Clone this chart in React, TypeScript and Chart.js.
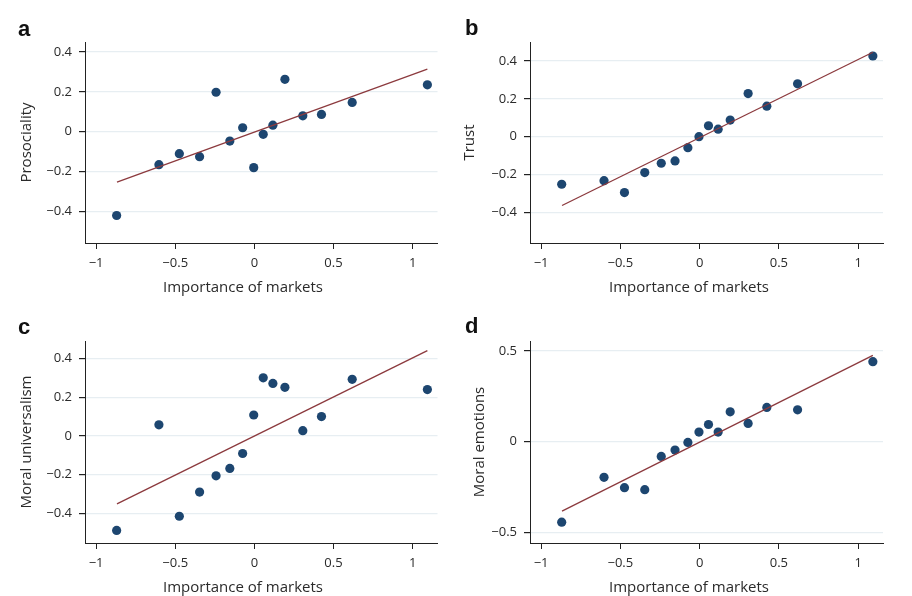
import React, { useEffect, useRef } from 'react';
import { Chart, registerables } from 'chart.js';

Chart.register(...registerables);

// importance of markets (shared x for all four panels)
const marketImportance = [-0.87, -0.603, -0.474, -0.346, -0.242, -0.155, -0.074, -0.004, 0.056, 0.117, 0.193, 0.306, 0.424, 0.618, 1.093];

const prosociality = [-0.42, -0.165, -0.11, -0.125, 0.198, -0.047, 0.02, -0.18, -0.013, 0.033, 0.263, 0.08, 0.087, 0.147, 0.235];
const trust = [-0.251, -0.232, -0.295, -0.189, -0.14, -0.128, -0.058, 0, 0.058, 0.04, 0.088, 0.228, 0.161, 0.279, 0.426];
const moralUniversalism = [-0.488, 0.057, -0.415, -0.29, -0.206, -0.168, -0.091, 0.108, 0.3, 0.271, 0.251, 0.027, 0.1, 0.292, 0.239];
const moralEmotions = [-0.443, -0.196, -0.253, -0.264, -0.081, -0.046, -0.004, 0.053, 0.095, 0.053, 0.165, 0.101, 0.189, 0.176, 0.441];

// fitted line: y at the first and last x
const fitX = [-0.868, 1.093];
const fitProsociality = [-0.253, 0.314];
const fitTrust = [-0.363, 0.446];
const fitUniversalism = [-0.351, 0.44];
const fitEmotions = [-0.382, 0.476];

const xTicks = [-1, -0.5, 0, 0.5, 1];
const yTicksFine = [-0.4, -0.2, 0, 0.2, 0.4];
const yTicksHalf = [-0.5, 0, 0.5];

const W = 456;
const H = 298;
const FONT = '"Open Sans", Lato, sans-serif';
const DOT = '#1d4670';
const FIT = '#8c3a3e';
const GRID = '#e7eef2';
const AXIS = '#222222';
const TEXT = '#2a2a2a';

const fmt = (v: number) => (v < 0 ? '\u2212' : '') + String(Math.abs(v));

interface PanelProps {
  letter: string;
  yTitle: string;
  ys: number[];
  fit: number[];
  yTicks: number[];
  yMin: number;
  yMax: number;
  x: number;
  y: number;
  plotLeft: number;
  plotTop: number;
  plotRight: number;
  plotBottom: number;
  titleX: number;
  xTitleX: number;
  xTitleY: number;
  letterX: number;
  letterY: number;
}

const Panel: React.FC<PanelProps> = (p) => {
  const canvasRef = useRef<HTMLCanvasElement>(null);
  const chartRef = useRef<Chart | null>(null);

  useEffect(() => {
    if (!canvasRef.current) return;
    if (chartRef.current) chartRef.current.destroy();
    const ctx = canvasRef.current.getContext('2d');
    if (!ctx) return;

    const titleLh = 18;

    chartRef.current = new Chart(ctx, {
      type: 'scatter',
      data: {
        datasets: [
          {
            type: 'line',
            data: fitX.map((x, i) => ({ x, y: p.fit[i] })),
            borderColor: FIT,
            borderWidth: 1.3,
            pointRadius: 0,
            fill: false,
            order: 0,
          },
          {
            data: marketImportance.map((x, i) => ({ x, y: p.ys[i] })),
            backgroundColor: DOT,
            borderWidth: 0,
            pointRadius: 4.6,
            order: 1,
          },
        ],
      },
      options: {
        animation: false,
        responsive: true,
        maintainAspectRatio: false,
        layout: { padding: { left: 0, top: p.plotTop, right: W - p.plotRight, bottom: 0 } },
        plugins: { legend: { display: false }, tooltip: { enabled: false } },
        scales: {
          x: {
            type: 'linear',
            min: -1.07,
            max: 1.157,
            afterBuildTicks: (s: any) => { s.ticks = xTicks.map((value) => ({ value })); },
            afterFit: (s: any) => { s.height = H - p.plotBottom; },
            border: { color: AXIS, width: 1 },
            grid: { drawOnChartArea: false, drawTicks: true, tickLength: 6, tickColor: AXIS },
            ticks: { color: TEXT, padding: 6, font: { family: FONT, size: 13 }, callback: (v: any) => fmt(Number(v)) },
          },
          y: {
            type: 'linear',
            min: p.yMin,
            max: p.yMax,
            afterBuildTicks: (s: any) => { s.ticks = p.yTicks.map((value) => ({ value })); },
            afterFit: (s: any) => { s.width = p.plotLeft; },
            border: { color: AXIS, width: 1 },
            grid: { color: GRID, lineWidth: 1.2, drawTicks: true, tickLength: 6, tickColor: AXIS },
            ticks: { color: TEXT, padding: 7, font: { family: FONT, size: 13 }, callback: (v: any) => fmt(Number(v)) },
            title: {
              display: true,
              text: p.yTitle,
              color: TEXT,
              font: { family: FONT, size: 15, lineHeight: 1.2 },
              padding: { top: p.titleX - titleLh / 2, bottom: 0 },
            },
          },
        },
      },
    });

    return () => {
      if (chartRef.current) {
        chartRef.current.destroy();
        chartRef.current = null;
      }
    };
  }, [p]);

  return (
    <div style={{ position: 'absolute', left: p.x, top: p.y, width: W, height: H }}>
      <canvas ref={canvasRef} />
      <div style={{
        position: 'absolute', left: p.letterX, top: p.letterY,
        fontFamily: '"Liberation Sans", Arial, sans-serif', fontWeight: 700, fontSize: 22,
        lineHeight: 1, color: '#111',
      }}>{p.letter}</div>
      <div style={{
        position: 'absolute', left: p.xTitleX - 150, width: 300, top: p.xTitleY - 8,
        textAlign: 'center', fontFamily: FONT, fontSize: 15, lineHeight: '15px',
        color: TEXT, whiteSpace: 'nowrap',
      }}>Importance of markets</div>
    </div>
  );
};

export default function App() {
  return (
    <div style={{ position: 'absolute', left: 0, top: 0, width: 912, height: 596, background: '#fff', overflow: 'hidden' }}>
      <Panel letter="a" yTitle="Prosociality" ys={prosociality} fit={fitProsociality}
        yTicks={yTicksFine} yMin={-0.558} yMax={0.45}
        x={0} y={0} plotLeft={85} plotTop={42} plotRight={437.5} plotBottom={243}
        titleX={27} xTitleX={243} xTitleY={287} letterX={18} letterY={18} />
      <Panel letter="b" yTitle="Trust" ys={trust} fit={fitTrust}
        yTicks={yTicksFine} yMin={-0.561} yMax={0.5}
        x={456} y={0} plotLeft={74} plotTop={42} plotRight={427} plotBottom={243}
        titleX={14} xTitleX={233} xTitleY={287} letterX={9} letterY={17} />
      <Panel letter="c" yTitle="Moral universalism" ys={moralUniversalism} fit={fitUniversalism}
        yTicks={yTicksFine} yMin={-0.553} yMax={0.49}
        x={0} y={298} plotLeft={85} plotTop={43} plotRight={437.5} plotBottom={245}
        titleX={27} xTitleX={243} xTitleY={289} letterX={18} letterY={18} />
      <Panel letter="d" yTitle="Moral emotions" ys={moralEmotions} fit={fitEmotions}
        yTicks={yTicksHalf} yMin={-0.558} yMax={0.555}
        x={456} y={298} plotLeft={74} plotTop={43} plotRight={427} plotBottom={245}
        titleX={24} xTitleX={233} xTitleY={289} letterX={9} letterY={17} />
    </div>
  );
}
